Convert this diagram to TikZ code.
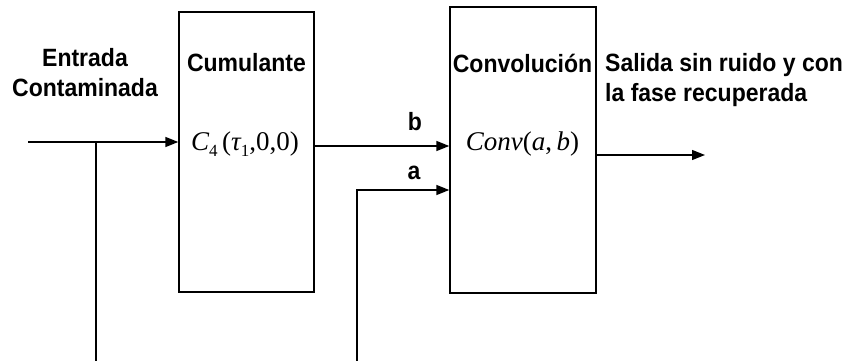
\documentclass[tikz,border=0pt]{standalone}
\usepackage{fontspec}
\setmainfont{Liberation Sans}
\newfontfamily\labelfont[FakeStretch=0.92]{Liberation Sans}
\newfontfamily\formulafont{Liberation Serif}
\usetikzlibrary{arrows.meta}

\tikzset{
  blockbox/.style={draw, line width=1.4pt, minimum width=#1, inner sep=0pt},
  wire/.style={line width=1.4pt},
  arr/.style={wire, -{Triangle[length=13pt,width=10pt]}},
  label text/.style={font=\labelfont\fontsize{25}{30}\selectfont\bfseries, inner sep=0pt},
  formula/.style={font=\formulafont\fontsize{27}{30}\selectfont, inner sep=0pt, anchor=base},
}

\begin{document}
\begin{tikzpicture}[x=1pt,y=-1pt]
  \useasboundingbox (0,0) rectangle (847,361);

  % processing blocks
  \node[blockbox=135pt, minimum height=280pt] (cum) at (246.5,152) {};
  \node[blockbox=146pt, minimum height=286pt] (conv) at (523,150) {};

  % block titles and operations
  \node[label text, anchor=base] (cumtitle) at (246.5,72) {Cumulante};
  \node[formula] (cumop) at (245,150)
    {\itshape C\raisebox{-6pt}{\upshape\fontsize{17}{17}\selectfont 4}\upshape\,(\itshape τ\raisebox{-6pt}{\upshape\fontsize{17}{17}\selectfont 1}\upshape,0,0)};
  \node[label text, anchor=base] (convtitle) at (522.5,73) {Convolución};
  \node[formula] (convop) at (522.5,150)
    {\itshape Conv\upshape(\itshape a\upshape,\,\itshape b\upshape)};

  % input, branch and output labels
  \node[label text, align=center, anchor=base] (inlabel) at (85,96) {Entrada\\Contaminada};
  \node[label text, anchor=base] (blabel) at (415,131) {b};
  \node[label text, anchor=base] (alabel) at (414,179) {a};
  \node[label text, align=left, anchor=base west] (outlabel) at (605,102)
    {Salida sin ruido y con\\la fase recuperada};

  % connector end points
  \coordinate (src) at (28,142);
  \coordinate (tap) at (96,142);
  \coordinate (tapend) at (96,361);
  \coordinate (afoot) at (357,361);
  \coordinate (acorner) at (357,190);
  \coordinate (outend) at (705,155);

  % connectors
  \draw[arr] (src) -- (src -| cum.west);
  \draw[wire] (tap) -- (tapend);
  \draw[arr] (cum.east |- 0,146) -- (conv.west |- 0,146);
  \draw[arr] (afoot) -- (acorner) -- (acorner -| conv.west);
  \draw[arr] (conv.east |- outend) -- (outend);
\end{tikzpicture}
\end{document}
